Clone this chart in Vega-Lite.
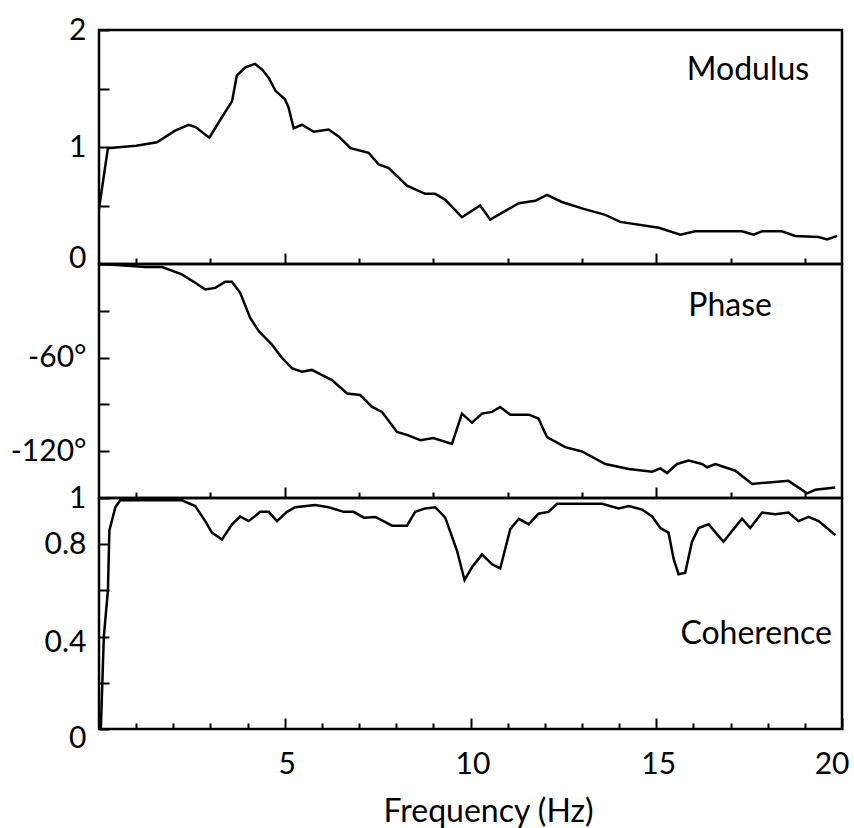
{
  "$schema": "https://vega.github.io/schema/vega-lite/v6.json",
  "background": "white",
  "padding": {"left": 8, "top": 13, "right": 0, "bottom": 0},
  "spacing": 0,
  "bounds": "flush",
  "config": {
    "view": {"stroke": "black", "strokeWidth": 2.5},
    "axis": {
      "domain": false,
      "grid": false,
      "tickColor": "black",
      "tickWidth": 2,
      "labelFont": "Lato",
      "labelFontSize": 30,
      "labelColor": "black",
      "labelFlush": false,
      "labelOverlap": false,
      "labelBound": false
    },
    "text": {"font": "Lato", "fontSize": 32, "color": "black"}
  },
  "datasets": {
    "modulus": [
      {"f": 0, "v": 0.47}, {"f": 0.24, "v": 0.99}, {"f": 0.6, "v": 1.0}, {"f": 1.0, "v": 1.01},
      {"f": 1.56, "v": 1.04}, {"f": 2.05, "v": 1.14}, {"f": 2.41, "v": 1.19}, {"f": 2.6, "v": 1.17},
      {"f": 2.97, "v": 1.08}, {"f": 3.3, "v": 1.25}, {"f": 3.58, "v": 1.39}, {"f": 3.71, "v": 1.61},
      {"f": 3.94, "v": 1.68}, {"f": 4.2, "v": 1.71}, {"f": 4.4, "v": 1.66}, {"f": 4.57, "v": 1.59},
      {"f": 4.75, "v": 1.48}, {"f": 5.0, "v": 1.41}, {"f": 5.1, "v": 1.34}, {"f": 5.24, "v": 1.16},
      {"f": 5.46, "v": 1.19}, {"f": 5.78, "v": 1.13}, {"f": 6.18, "v": 1.15}, {"f": 6.45, "v": 1.09},
      {"f": 6.77, "v": 0.99}, {"f": 7.26, "v": 0.95}, {"f": 7.53, "v": 0.85}, {"f": 7.8, "v": 0.82},
      {"f": 8.29, "v": 0.67}, {"f": 8.78, "v": 0.6}, {"f": 9.05, "v": 0.6}, {"f": 9.32, "v": 0.55},
      {"f": 9.77, "v": 0.4}, {"f": 10.26, "v": 0.5}, {"f": 10.53, "v": 0.38}, {"f": 11.3, "v": 0.52},
      {"f": 11.74, "v": 0.54}, {"f": 12.06, "v": 0.59}, {"f": 12.46, "v": 0.53}, {"f": 13.0, "v": 0.475},
      {"f": 13.63, "v": 0.42}, {"f": 14.03, "v": 0.36}, {"f": 15.07, "v": 0.31}, {"f": 15.65, "v": 0.25},
      {"f": 16.05, "v": 0.28}, {"f": 17.31, "v": 0.28}, {"f": 17.62, "v": 0.25}, {"f": 17.85, "v": 0.28},
      {"f": 18.38, "v": 0.28}, {"f": 18.74, "v": 0.24}, {"f": 19.37, "v": 0.23}, {"f": 19.6, "v": 0.21},
      {"f": 19.87, "v": 0.24}
    ],
    "phase": [
      {"f": 0, "v": 0}, {"f": 0.48, "v": -0.6}, {"f": 1.25, "v": -2}, {"f": 1.7, "v": -2},
      {"f": 2.23, "v": -6.7}, {"f": 2.59, "v": -12}, {"f": 2.86, "v": -16.3}, {"f": 3.13, "v": -15.3},
      {"f": 3.4, "v": -11.4}, {"f": 3.58, "v": -11.4}, {"f": 3.8, "v": -18.5}, {"f": 4.07, "v": -34.6},
      {"f": 4.3, "v": -43}, {"f": 4.66, "v": -51.8}, {"f": 4.93, "v": -60.4}, {"f": 5.2, "v": -66.9},
      {"f": 5.46, "v": -69}, {"f": 5.73, "v": -67.9}, {"f": 6.27, "v": -74.4}, {"f": 6.68, "v": -83},
      {"f": 7.03, "v": -84}, {"f": 7.35, "v": -91.6}, {"f": 7.62, "v": -94.8}, {"f": 8.02, "v": -107.7},
      {"f": 8.29, "v": -109.5}, {"f": 8.65, "v": -113}, {"f": 9.0, "v": -111.6}, {"f": 9.5, "v": -115.3},
      {"f": 9.77, "v": -95.9}, {"f": 10.04, "v": -101.7}, {"f": 10.31, "v": -95.9}, {"f": 10.58, "v": -94.8},
      {"f": 10.8, "v": -91.6}, {"f": 11.07, "v": -96.6}, {"f": 11.57, "v": -96.6}, {"f": 11.83, "v": -99.1},
      {"f": 12.06, "v": -111}, {"f": 12.55, "v": -117.4}, {"f": 13.0, "v": -120.2}, {"f": 13.63, "v": -128.2},
      {"f": 14.26, "v": -131.4}, {"f": 14.89, "v": -133.1}, {"f": 15.11, "v": -131}, {"f": 15.29, "v": -134},
      {"f": 15.56, "v": -128.2}, {"f": 15.87, "v": -126}, {"f": 16.23, "v": -128.2}, {"f": 16.37, "v": -130.3},
      {"f": 16.59, "v": -128.2}, {"f": 17.13, "v": -132.5}, {"f": 17.58, "v": -141}, {"f": 18.03, "v": -140},
      {"f": 18.56, "v": -139}, {"f": 19.06, "v": -147}, {"f": 19.28, "v": -144.7}, {"f": 19.82, "v": -143.2}
    ],
    "coherence": [
      {"f": 0.05, "v": 0.0}, {"f": 0.13, "v": 0.4}, {"f": 0.24, "v": 0.6}, {"f": 0.28, "v": 0.86},
      {"f": 0.44, "v": 0.96}, {"f": 0.57, "v": 0.99}, {"f": 1.07, "v": 0.99}, {"f": 2.23, "v": 0.99},
      {"f": 2.59, "v": 0.965}, {"f": 2.86, "v": 0.9}, {"f": 3.04, "v": 0.85}, {"f": 3.31, "v": 0.82},
      {"f": 3.58, "v": 0.886}, {"f": 3.8, "v": 0.92}, {"f": 4.03, "v": 0.9}, {"f": 4.34, "v": 0.94},
      {"f": 4.57, "v": 0.94}, {"f": 4.79, "v": 0.9}, {"f": 5.06, "v": 0.94}, {"f": 5.28, "v": 0.96},
      {"f": 5.82, "v": 0.97}, {"f": 6.18, "v": 0.96}, {"f": 6.59, "v": 0.94}, {"f": 6.85, "v": 0.94},
      {"f": 7.13, "v": 0.915}, {"f": 7.44, "v": 0.918}, {"f": 7.89, "v": 0.88}, {"f": 8.29, "v": 0.88},
      {"f": 8.51, "v": 0.94}, {"f": 8.78, "v": 0.955}, {"f": 9.05, "v": 0.96}, {"f": 9.32, "v": 0.915},
      {"f": 9.64, "v": 0.77}, {"f": 9.84, "v": 0.645}, {"f": 10.04, "v": 0.7}, {"f": 10.31, "v": 0.756},
      {"f": 10.58, "v": 0.713}, {"f": 10.8, "v": 0.695}, {"f": 11.07, "v": 0.865}, {"f": 11.3, "v": 0.91},
      {"f": 11.57, "v": 0.886}, {"f": 11.83, "v": 0.932}, {"f": 12.1, "v": 0.94}, {"f": 12.33, "v": 0.975},
      {"f": 13.54, "v": 0.975}, {"f": 13.99, "v": 0.955}, {"f": 14.26, "v": 0.965}, {"f": 14.62, "v": 0.95},
      {"f": 14.89, "v": 0.92}, {"f": 15.11, "v": 0.87}, {"f": 15.33, "v": 0.85}, {"f": 15.47, "v": 0.735},
      {"f": 15.6, "v": 0.67}, {"f": 15.78, "v": 0.677}, {"f": 15.96, "v": 0.81}, {"f": 16.14, "v": 0.87},
      {"f": 16.41, "v": 0.886}, {"f": 16.81, "v": 0.81}, {"f": 17.04, "v": 0.857}, {"f": 17.31, "v": 0.91},
      {"f": 17.53, "v": 0.87}, {"f": 17.85, "v": 0.937}, {"f": 18.2, "v": 0.93}, {"f": 18.56, "v": 0.937},
      {"f": 18.83, "v": 0.9}, {"f": 19.1, "v": 0.918}, {"f": 19.37, "v": 0.9}, {"f": 19.82, "v": 0.84}
    ]
  },
  "vconcat": [
    {
      "width": 743,
      "height": 234,
      "layer": [
        {
          "data": {"name": "modulus"},
          "mark": {"type": "line", "color": "black", "strokeWidth": 2.5},
          "encoding": {
            "x": {
              "field": "f", "type": "quantitative",
              "scale": {"domain": [0, 20], "nice": false},
              "axis": {
                "title": null, "labels": false,
                "values": [1,2,3,4,5,6,7,8,9,10,11,12,13,14,15,16,17,18,19,20],
                "tickSize": {"condition": {"test": "datum.value % 5 === 0", "value": -11}, "value": -6},
                "minExtent": 0, "maxExtent": 0
              }
            },
            "y": {
              "field": "v", "type": "quantitative",
              "scale": {"domain": [0, 2], "nice": false},
              "axis": {
                "title": null,
                "values": [0, 0.5, 1, 1.5, 2],
                "format": "~g",
                "labelOverlap": false,
                "labelExpr": "datum.value % 1 === 0 ? datum.label : ''",
                "labelOffset": {"condition": {"test": "datum.value === 0", "value": -6}, "value": 0},
                "tickSize": -10, "labelPadding": 23
              }
            }
          }
        },
        {
          "data": {"values": [{}]},
          "mark": {"type": "text", "align": "center", "baseline": "alphabetic"},
          "encoding": {
            "x": {"datum": 17.47, "type": "quantitative"},
            "y": {"datum": 1.573, "type": "quantitative"},
            "text": {"value": "Modulus"}
          }
        }
      ]
    },
    {
      "width": 743,
      "height": 234,
      "layer": [
        {
          "data": {"name": "phase"},
          "mark": {"type": "line", "color": "black", "strokeWidth": 2.5},
          "encoding": {
            "x": {
              "field": "f", "type": "quantitative",
              "scale": {"domain": [0, 20], "nice": false},
              "axis": {
                "title": null, "labels": false,
                "values": [1,2,3,4,5,6,7,8,9,10,11,12,13,14,15,16,17,18,19,20],
                "tickSize": {"condition": {"test": "datum.value % 5 === 0", "value": -11}, "value": -6},
                "minExtent": 0, "maxExtent": 0
              }
            },
            "y": {
              "field": "v", "type": "quantitative",
              "scale": {"domain": [-150, 0], "nice": false},
              "axis": {
                "title": null,
                "values": [-30, -60, -90, -120],
                "labelOverlap": false,
                "labelExpr": "datum.value === -60 || datum.value === -120 ? datum.value + '°' : ''",
                "tickSize": -10, "labelPadding": 23
              }
            }
          }
        },
        {
          "data": {"values": [{}]},
          "mark": {"type": "text", "align": "center", "baseline": "alphabetic"},
          "encoding": {
            "x": {"datum": 16.99, "type": "quantitative"},
            "y": {"datum": -33.4, "type": "quantitative"},
            "text": {"value": "Phase"}
          }
        }
      ]
    },
    {
      "width": 743,
      "height": 231,
      "resolve": {"scale": {"x": "independent"}, "axis": {"x": "independent"}},
      "layer": [
        {
          "data": {"name": "coherence"},
          "mark": {"type": "line", "color": "black", "strokeWidth": 2.5},
          "encoding": {
            "x": {
              "field": "f", "type": "quantitative",
              "scale": {"domain": [0, 20], "nice": false},
              "axis": {
                "orient": "bottom",
                "title": "Frequency (Hz)",
                "values": [5, 10, 15, 20],
                "labelOverlap": false,
                "tickSize": -11,
                "labelPadding": 31,
                "labelAlign": {"condition": {"test": "datum.value == 20", "value": "right"}, "value": "center"},
                "labelOffset": {"condition": {"test": "datum.value == 20", "value": 7}, "value": 2},
                "titleFont": "Lato",
                "titleFontSize": 32,
                "titleFontWeight": "normal",
                "titleColor": "black",
                "titleX": 389,
                "titleY": 92,
                "titleAlign": "center",
                "titleBaseline": "alphabetic"
              }
            },
            "y": {
              "field": "v", "type": "quantitative",
              "scale": {"domain": [0, 1], "nice": false},
              "axis": {
                "title": null,
                "values": [0, 0.2, 0.4, 0.6, 0.8, 1],
                "format": "~g",
                "labelOverlap": false,
                "labelExpr": "indexof([0, 0.4, 0.8, 1], datum.value) >= 0 ? datum.label : ''",
                "labelOffset": {"condition": [{"test": "datum.value === 0", "value": 9}, {"test": "datum.value === 0.4", "value": 6}], "value": 0},
                "tickSize": -10, "labelPadding": 23
              }
            }
          }
        },
        {
          "data": {"values": [{}]},
          "mark": {"type": "text", "align": "center", "baseline": "alphabetic"},
          "encoding": {
            "x": {
              "datum": 17.69, "type": "quantitative",
              "scale": {"domain": [0, 20], "nice": false},
              "axis": {
                "orient": "bottom",
                "title": null, "labels": false,
                "values": [1,2,3,4,6,7,8,9,11,12,13,14,16,17,18,19],
                "tickSize": -6
              }
            },
            "y": {"datum": 0.368, "type": "quantitative"},
            "text": {"value": "Coherence"}
          }
        }
      ]
    }
  ]
}
